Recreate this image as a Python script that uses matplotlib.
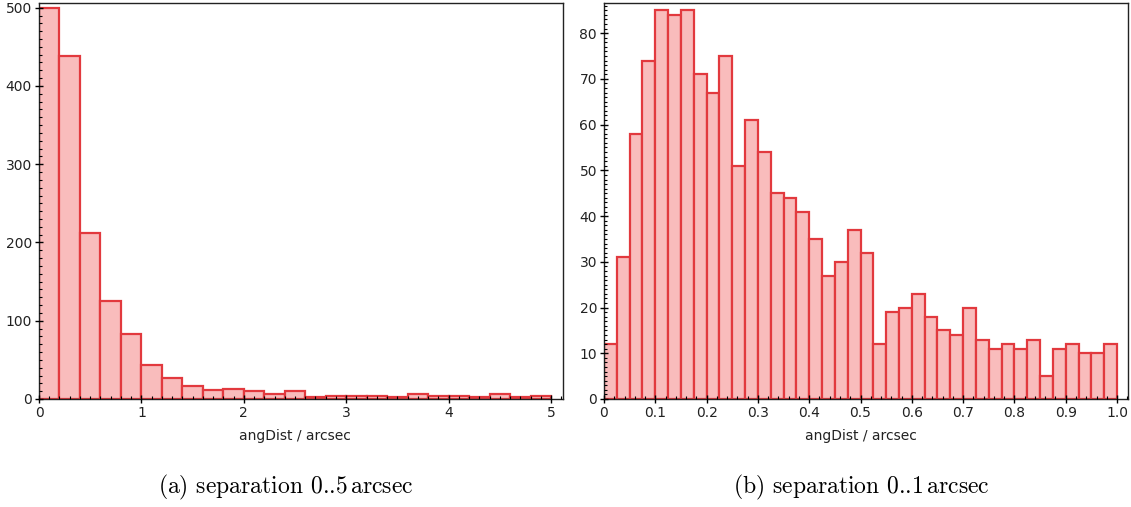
import numpy as np
import matplotlib
matplotlib.use("Agg")
import matplotlib.pyplot as plt
from matplotlib.ticker import MultipleLocator

# Left panel: separation 0..5 arcsec, bin width 0.2
left_bin_width = 0.2
left_counts = [500, 438, 212, 125, 83, 44, 27, 17, 11, 13, 10, 7, 10, 2, 4,
               4, 4, 2, 6, 4, 4, 3, 6, 3, 4]

# Right panel: separation 0..1 arcsec, bin width 0.025
right_bin_width = 0.025
right_counts = [12, 31, 58, 74, 85, 84, 85, 71, 67, 75, 51, 61, 54, 45, 44,
                41, 35, 27, 30, 37, 32, 12, 19, 20, 23, 18, 15, 14, 20, 13,
                11, 12, 11, 13, 5, 11, 12, 10, 10, 12]

xlabel = "angDist / arcsec"
captions = ["(a) separation 0..5$\\,$arcsec", "(b) separation 0..1$\\,$arcsec"]

FILL = "#f9bcbc"
EDGE = "#e2393e"

W, H = 1131, 507
fig = plt.figure(figsize=(W / 100, H / 100), dpi=100)
plt.rcParams['mathtext.fontset'] = 'cm'

def px_axes(x0, x1, y0, y1):
    return fig.add_axes([x0 / W, 1 - y1 / H, (x1 - x0) / W, (y1 - y0) / H])

ax1 = px_axes(39, 563, 3, 399)
ax2 = px_axes(604, 1128, 3, 399)

def draw(ax, counts, bw, xlim, ylim, xmaj, xmin, ymaj, ymin, xfmt):
    edges = np.arange(len(counts)) * bw
    ax.bar(edges, counts, width=bw, align='edge', color=FILL,
           edgecolor=EDGE, linewidth=1.6)
    ax.set_axisbelow(False)
    ax.set_xlim(*xlim)
    ax.set_ylim(*ylim)
    ax.xaxis.set_major_locator(MultipleLocator(xmaj))
    ax.xaxis.set_minor_locator(MultipleLocator(xmin))
    ax.yaxis.set_major_locator(MultipleLocator(ymaj))
    ax.yaxis.set_minor_locator(MultipleLocator(ymin))
    ax.xaxis.set_major_formatter(xfmt)
    ax.tick_params(which='major', direction='inout', length=6, width=1,
                   labelsize=10, labelcolor='#222222', pad=2)
    ax.tick_params(which='minor', direction='in', length=2.5, width=0.8)
    ax.tick_params(top=False, right=False)
    for s in ax.spines.values():
        s.set_linewidth(1.0)
        s.set_color('#222222')
    ax.set_xlabel(xlabel, fontsize=10, color='#222222')

draw(ax1, left_counts, left_bin_width, (0, 5.117), (0, 506),
     1, 0.1, 100, 10, matplotlib.ticker.FormatStrFormatter('%d'))
draw(ax2, right_counts, right_bin_width, (0, 1.0214), (0, 86.6),
     0.1, 0.02, 10, 1, matplotlib.ticker.FuncFormatter(
         lambda v, p: '0' if abs(v) < 1e-9 else f'{v:.1f}'))

ax1.xaxis.set_label_coords(0.489, -0.075)
ax2.xaxis.set_label_coords(0.49, -0.075)

fig.text(286 / W, 1 - 487 / H, captions[0], ha='center', va='center',
         fontsize=17, family='cmr10')
fig.text(861 / W, 1 - 487 / H, captions[1], ha='center', va='center',
         fontsize=17, family='cmr10')

fig.savefig("out.png", dpi=100)
